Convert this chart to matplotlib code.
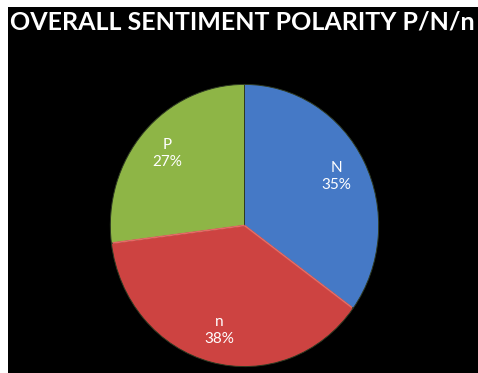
import numpy as np
import matplotlib.pyplot as plt

labels = ['N', 'n', 'P']
shares = [35, 38, 27]
colors = ['#4579c6', '#cd4341', '#8eb546']
title = 'OVERALL SENTIMENT POLARITY P/N/n'

fig = plt.figure(figsize=(4.78, 3.73), dpi=100, facecolor='white')

# black slide area, white strip on top and left
bg = fig.add_axes([8 / 478, 0, 1, 1 - 7 / 373])
bg.set_facecolor('black')
bg.set_xticks([])
bg.set_yticks([])
for s in bg.spines.values():
    s.set_visible(False)

fig.text(10 / 478, 1 - 30 / 373, title, color='white', fontsize=18, fontweight='bold',
         family='Lato', ha='left', va='baseline')

ax = fig.add_axes([109 / 478, 5 / 373, 271 / 478, 285 / 373])
ax.set_facecolor('none')
wedges, _ = ax.pie(shares, colors=colors, startangle=90, counterclock=False,
                   wedgeprops=dict(edgecolor='#2e3a22', linewidth=0.7))

# light rim on the red slice where it meets the others
red = wedges[1]
for th in (red.theta1, red.theta2):
    t = np.deg2rad(th)
    ax.plot([0, 0.99 * np.cos(t)], [0, 0.99 * np.sin(t)], color='#e76a66',
            lw=1.2, solid_capstyle='butt')

for w, lab, val in zip(wedges, labels, shares):
    mid = np.deg2rad((w.theta1 + w.theta2) / 2)
    r = 0.77
    ax.text(r * np.cos(mid), r * np.sin(mid), '{}\n{}%'.format(lab, val),
            color='white', fontsize=11, family='Lato', ha='center', va='center',
            linespacing=1.3)

ax.set_xlim(-1.01, 1.01)
ax.set_ylim(-1.01, 1.01)
ax.set_aspect('auto')
ax.axis('off')

fig.savefig('out.png', dpi=100, facecolor=fig.get_facecolor())
